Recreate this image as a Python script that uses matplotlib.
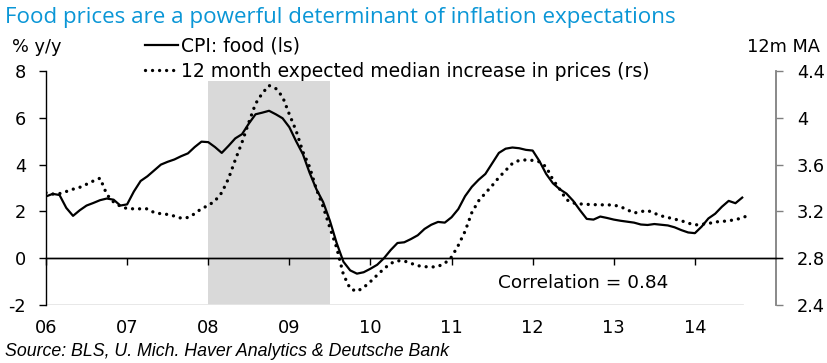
import numpy as np
import matplotlib
matplotlib.use("Agg")
import matplotlib.pyplot as plt
from matplotlib.lines import Line2D

plt.rcParams['font.family'] = ['DejaVu Sans']

# ---- data -----------------------------------------------------------
start_year = 2006
cpi_food = [2.64, 2.75, 2.7, 2.15, 1.81, 2.05, 2.25, 2.36, 2.48, 2.55, 2.5, 2.25,
            2.3, 2.85, 3.3, 3.5, 3.75, 4.0, 4.12, 4.22, 4.36, 4.48, 4.75, 4.98,
            4.96, 4.75, 4.5, 4.8, 5.12, 5.3, 5.75, 6.15, 6.22, 6.3, 6.15, 5.98,
            5.6, 5.0, 4.45, 3.65, 2.95, 2.4, 1.6, 0.65, -0.15, -0.52, -0.66, -0.6,
            -0.45, -0.28, 0.0, 0.35, 0.65, 0.68, 0.82, 0.98, 1.25, 1.43, 1.55, 1.52,
            1.75, 2.1, 2.65, 3.05, 3.35, 3.6, 4.05, 4.5, 4.68, 4.73, 4.7, 4.63,
            4.6, 4.15, 3.6, 3.2, 2.95, 2.76, 2.45, 2.05, 1.68, 1.65, 1.78, 1.72,
            1.65, 1.6, 1.56, 1.52, 1.44, 1.42, 1.46, 1.43, 1.4, 1.32, 1.2, 1.1,
            1.07, 1.35, 1.7, 1.9, 2.2, 2.45, 2.35, 2.59]
expected_median = [3.36, 3.348, 3.352, 3.37, 3.39, 3.406, 3.432, 3.46, 3.484, 3.344, 3.28, 3.244,
                   3.224, 3.222, 3.222, 3.222, 3.19, 3.18, 3.174, 3.16, 3.142, 3.148, 3.18, 3.224,
                   3.25, 3.29, 3.36, 3.48, 3.64, 3.79, 3.96, 4.12, 4.21, 4.276, 4.25, 4.18,
                   4.03, 3.89, 3.71, 3.58, 3.39, 3.24, 3.06, 2.89, 2.66, 2.54, 2.516, 2.55,
                   2.6, 2.656, 2.71, 2.756, 2.778, 2.776, 2.756, 2.736, 2.728, 2.724, 2.73, 2.756,
                   2.81, 2.91, 3.03, 3.19, 3.29, 3.356, 3.42, 3.49, 3.55, 3.61, 3.636, 3.64,
                   3.636, 3.624, 3.58, 3.47, 3.39, 3.30, 3.272, 3.264, 3.26, 3.258, 3.256, 3.256,
                   3.254, 3.24, 3.214, 3.186, 3.198, 3.208, 3.184, 3.162, 3.148, 3.134, 3.12, 3.10,
                   3.084, 3.09, 3.096, 3.11, 3.114, 3.12, 3.13, 3.144, 3.17]
recession = (2008.0, 2009.5)
year_ticks = list(range(2006, 2015))
year_labels = ['06', '07', '08', '09', '10', '11', '12', '13', '14']
left_ticks = [-2, 0, 2, 4, 6, 8]
right_ticks = [2.4, 2.8, 3.2, 3.6, 4.0, 4.4]
right_labels = ['2.4', '2.8', '3.2', '3.6', '4', '4.4']

t_cpi = start_year + np.arange(len(cpi_food)) / 12.0
t_exp = start_year + np.arange(len(expected_median)) / 12.0

# ---- figure ---------------------------------------------------------
W, H = 828, 363
fig = plt.figure(figsize=(W / 100, H / 100), dpi=100)
L, R, T, B = 46, 776, 71, 305
ax = fig.add_axes([L / W, 1 - B / H, (R - L) / W, (B - T) / H])
ax2 = ax.twinx()
ax.set_zorder(ax2.get_zorder() + 1)
ax.patch.set_visible(False)

fs = 12.8
ax.set_xlim(2006, 2015)
ax.set_ylim(-2, 8)
ax2.set_ylim(2.4, 4.4)

# shading
ax2.axvspan(recession[0], recession[1], ymin=0, ymax=(B - 81) / (B - T),
            color='#d9d9d9', lw=0, zorder=0)
# faint bottom line
ax2.axhline(2.4, xmin=0, xmax=(742 - L) / (R - L), color='#e6e6e6', lw=2, zorder=1)

# series
ax.plot(t_cpi, cpi_food, color='black', lw=1.6, solid_joinstyle='round', zorder=3)
ax2.plot(t_exp, expected_median, color='black', lw=2.4,
         linestyle=(0, (0.01, 2.1)), dash_capstyle='round', zorder=2)

# spines
for s in ['top', 'right']:
    ax.spines[s].set_visible(False)
ax.spines['left'].set_color('black')
ax.spines['left'].set_linewidth(1.0)
ax.spines['bottom'].set_position(('data', 0))
ax.spines['bottom'].set_color('black')
ax.spines['bottom'].set_linewidth(1.0)
for s in ['top', 'left', 'bottom']:
    ax2.spines[s].set_visible(False)
ax2.spines['right'].set_color('#808080')
ax2.spines['right'].set_linewidth(1.3)

ax.set_yticks(left_ticks)
ax.set_yticklabels([str(v) for v in left_ticks])
ax.tick_params(axis='y', direction='out', length=5, width=1, pad=9.5, labelsize=fs)
ax.set_xticks(year_ticks)
ax.set_xticklabels(year_labels)
ax.tick_params(axis='x', direction='out', length=5, width=1, pad=39, labelsize=fs)

ax2.set_yticks(right_ticks)
ax2.set_yticklabels(right_labels)
ax2.tick_params(axis='y', direction='out', length=5, width=1, color='#808080',
                pad=10, labelsize=fs)

# extend zero line slightly past right spine
ax.plot([2006, 2015.08], [0, 0], color='black', lw=1.0, clip_on=False, zorder=2)

# texts
fig.text(5 / W, 1 - 18 / H, 'Food prices are a powerful determinant of inflation expectations',
         color='#0a96d6', fontsize=16.1, family=['Open Sans', 'DejaVu Sans'],
         va='center', ha='left')
fig.text(12 / W, 1 - 47 / H, '% y/y', fontsize=fs, va='center', ha='left')
fig.text(820 / W, 1 - 47 / H, '12m MA', fontsize=fs, va='center', ha='right')
fig.text(583 / W, 1 - 283 / H, 'Correlation = 0.84', fontsize=13.3, va='center', ha='center')
fig.text(5 / W, 1 - 352 / H, 'Source: BLS, U. Mich. Haver Analytics & Deutsche Bank',
         fontsize=12.8, style='italic', family=['Liberation Sans', 'DejaVu Sans'],
         va='center', ha='left')

fs_leg = 13.5
handles = [Line2D([], [], color='black', lw=1.6),
           Line2D([], [], color='black', lw=2.4, linestyle=(0, (0.01, 2.1)),
                  dash_capstyle='round')]
labels = ['CPI: food (ls)', '12 month expected median increase in prices (rs)']
fig.legend(handles, labels, loc='upper left', bbox_to_anchor=(145 / W, 1 - 37 / H),
           frameon=False, fontsize=fs_leg, handlelength=1.75, handletextpad=0.17,
           labelspacing=0.32, borderpad=0, borderaxespad=0)

fig.savefig('out.png', dpi=100)
